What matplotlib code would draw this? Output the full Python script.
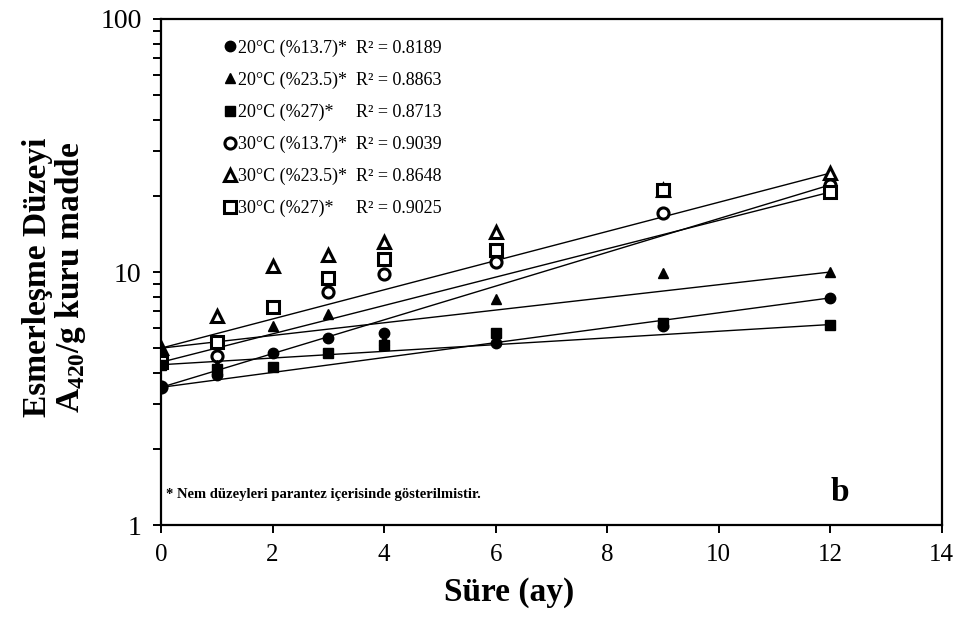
import numpy as np
import matplotlib
matplotlib.use("Agg")
import matplotlib.pyplot as plt

plt.rcParams['font.family'] = ['Liberation Serif', 'DejaVu Serif']
plt.rcParams['mathtext.fontset'] = 'custom'
plt.rcParams['mathtext.rm'] = 'Liberation Serif'
plt.rcParams['mathtext.bf'] = 'Liberation Serif:bold'

# storage time (months)
months = [0, 1, 2, 3, 4, 6, 9, 12]

# browning level, A420 / g dry matter
t20_m137 = [3.5, 3.9, 4.8, 5.5, 5.75, 5.25, 6.1, 7.9]
t20_m235 = [5.0, 4.3, 6.1, 6.8, 5.4, 7.8, 9.9, 10.0]
t20_m27 = [4.3, 4.15, 4.2, 4.8, 5.15, 5.75, 6.3, 6.2]
t30_m137 = [3.5, 4.65, 7.3, 8.3, 9.8, 11.0, 17.1, 22.1]
t30_m235 = [5.0, 6.7, 10.6, 11.7, 13.1, 14.4, 21.1, 24.6]
t30_m27 = [4.4, 5.3, 7.3, 9.5, 11.3, 12.2, 21.1, 20.7]

labels = ['20°C (%13.7)*', '20°C (%23.5)*', '20°C (%27)*',
          '30°C (%13.7)*', '30°C (%23.5)*', '30°C (%27)*']
r2_values = ['0.8189', '0.8863', '0.8713', '0.9039', '0.8648', '0.9025']

series = [t20_m137, t20_m235, t20_m27, t30_m137, t30_m235, t30_m27]
markers = ['o', '^', 's', 'o', '^', 's']
filled = [True, True, True, False, False, False]

fig = plt.figure(figsize=(9.67, 6.33), dpi=100)
ax = fig.add_axes([0.1665, 0.1706, 0.8075, 0.7994])

handles = []
for i, vals in enumerate(series):
    # trend line runs from first to last measurement
    ax.plot([months[0], months[-1]], [vals[0], vals[-1]], color='black', lw=1.0, zorder=2)
    if filled[i]:
        h, = ax.plot(months, vals, linestyle='none', marker=markers[i], ms=7.5,
                     mfc='black', mec='black', zorder=4)
    else:
        h, = ax.plot(months, vals, linestyle='none', marker=markers[i], ms=8,
                     mfc='white', mec='black', mew=2.2, zorder=3)
    handles.append(h)

leg_labels = []
for lab, r2 in zip(labels, r2_values):
    gap = '     ' if '(%27)' in lab else '  '
    leg_labels.append(lab + gap + 'R² = ' + r2)
ax.legend(handles, leg_labels, loc='upper left', bbox_to_anchor=(0.072, 0.974),
          frameon=False, fontsize=13, handlelength=0.6, handletextpad=0.15,
          labelspacing=0.82, borderaxespad=0)

ax.set_yscale('log')
ax.set_ylim(1, 100)
ax.set_xlim(0, 14)
ax.set_xticks(range(0, 15, 2))
ax.set_yticks([1, 10, 100])
ax.set_yticklabels(['1', '10', '100'])
ax.yaxis.set_minor_formatter(matplotlib.ticker.NullFormatter())

for s in ax.spines.values():
    s.set_linewidth(1.6)
ax.tick_params(axis='both', which='both', direction='out', width=1.4, length=6, pad=8)
ax.tick_params(axis='x', labelsize=18)
ax.tick_params(axis='y', labelsize=20)

ax.set_xlabel('Süre (ay)', fontsize=24, fontweight='bold')
ax.xaxis.set_label_coords(0.446, -0.103)
ax.set_ylabel('Esmerleşme Düzeyi\nA$_{\\mathbf{420}}$/g kuru madde', fontsize=24,
              fontweight='bold', linespacing=1.0)
ax.yaxis.set_label_coords(-0.094, 0.49)

ax.text(0.006, 0.061, '* Nem düzeyleri parantez içerisinde gösterilmistir.',
        transform=ax.transAxes, fontsize=10.5, fontweight='bold', va='center', ha='left')
ax.text(0.869, 0.064, 'b', transform=ax.transAxes, fontsize=24, fontweight='bold',
        va='center', ha='center')

fig.savefig('out.png', dpi=100)
